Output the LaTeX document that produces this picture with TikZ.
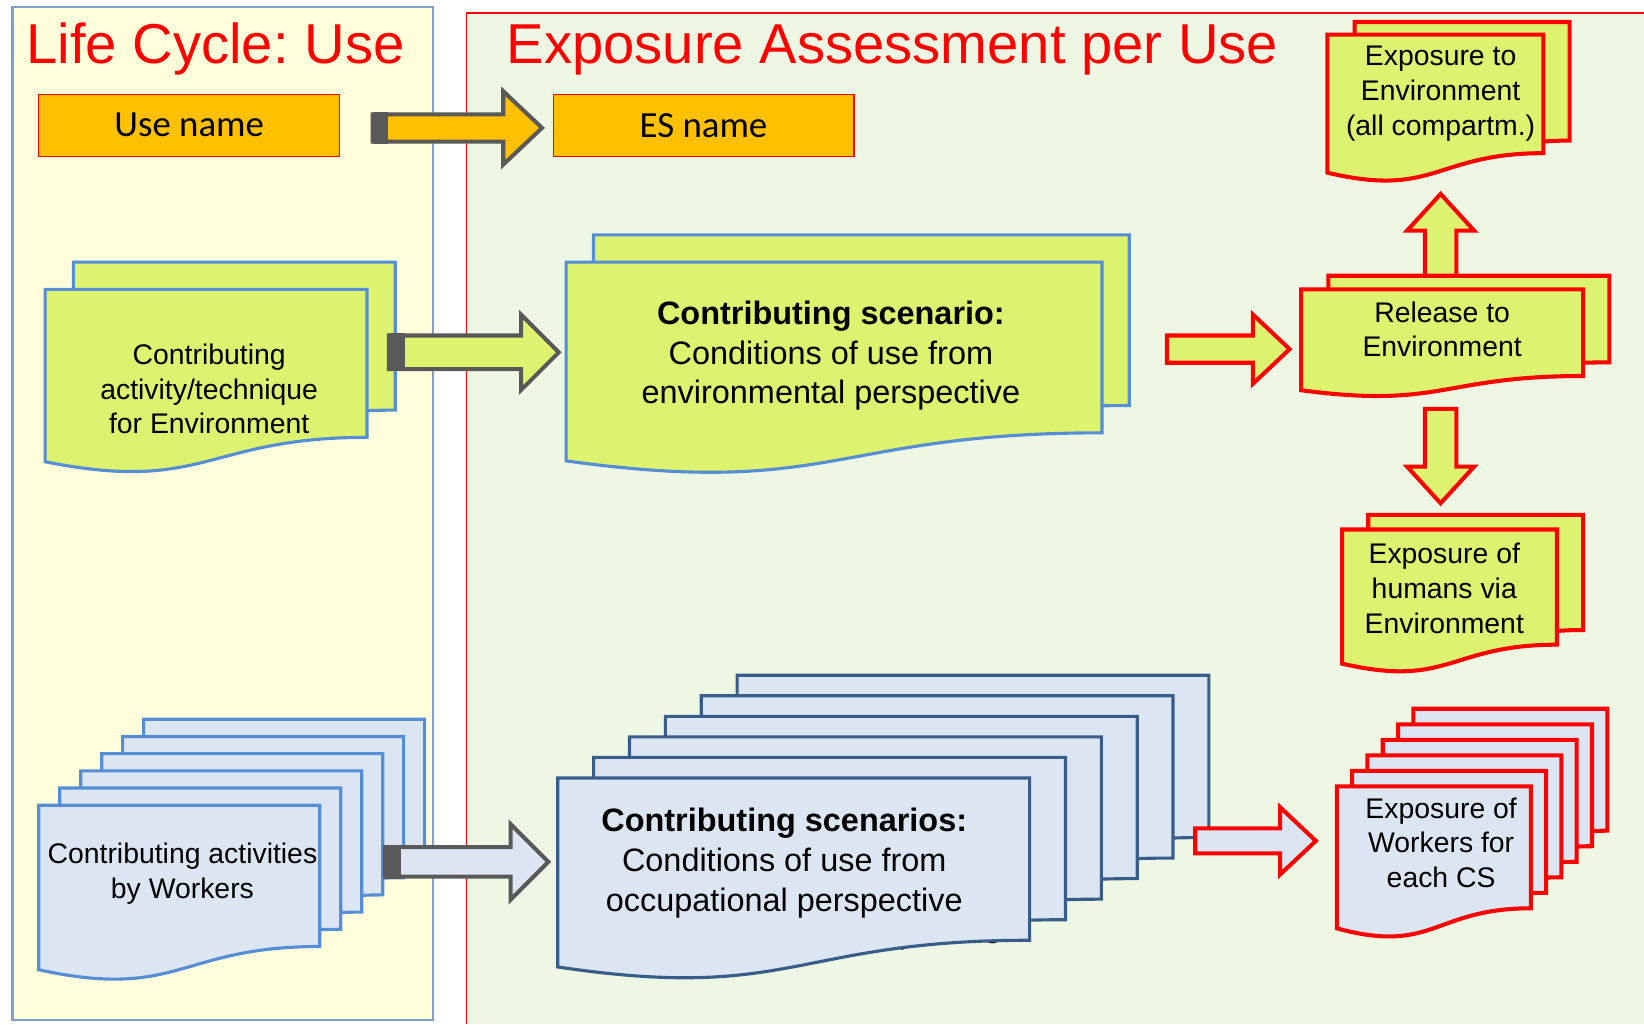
\documentclass[tikz,border=0pt]{standalone}
\usepackage{fontspec}
\setmainfont{Liberation Sans}
\newfontfamily\calibrifont{Carlito}
\usetikzlibrary{calc, fit}
\frenchspacing

\definecolor{lcyellow}{RGB}{255,255,220}
\definecolor{eagreen}{RGB}{238,247,228}
\definecolor{panelblue}{RGB}{125,160,205}
\definecolor{esorange}{RGB}{255,192,0}
\definecolor{docgreen}{RGB}{221,242,110}
\definecolor{docblue}{RGB}{85,142,213}
\definecolor{palblue}{RGB}{220,230,242}
\definecolor{deepblue}{RGB}{56,93,138}
\definecolor{arrowgray}{RGB}{89,89,89}

% document outline with wavy bottom, drawn round a fitted node
\newcommand{\docshape}[2]{%
  \draw[#2] (#1.north west) -- (#1.north east)
    -- ($(#1.north east)!0.802!(#1.south east)$)
    .. controls ($(#1.north)!0.802!(#1.south)$) and ($(#1.north)!1.1075!(#1.south)$)
    .. ($(#1.north west)!0.934!(#1.south west)$) -- cycle;}

% block arrow: style, from, to, half shaft, half head, head length
\newcommand{\blockarrow}[6][]{%
  \coordinate (ahb) at ($(#3)!#6!(#2)$);
  \draw[#1] ($(#2)!#4!90:(#3)$) -- ($(ahb)!#4!90:(#3)$) -- ($(ahb)!#5!90:(#3)$) -- (#3)
    -- ($(ahb)!#5!-90:(#3)$) -- ($(ahb)!#4!-90:(#3)$) -- ($(#2)!#4!-90:(#3)$) -- cycle;}

\begin{document}
\begin{tikzpicture}[x=0.2mm, y=-0.2mm,
  docspot/.style={inner sep=0pt, outer sep=0pt},
  greendoc/.style={fill=docgreen, draw=docblue, line width=1.7pt},
  reddoc/.style={fill=docgreen, draw=red, line width=2.2pt},
  bluedoc/.style={fill=palblue, draw=docblue, line width=1.7pt},
  deepdoc/.style={fill=palblue, draw=deepblue, line width=1.7pt},
  redbluedoc/.style={fill=palblue, draw=red, line width=2.2pt},
  title/.style={text=red, font=\fontsize{30.5}{36}\selectfont, inner sep=0pt},
  namebox/.style={fill=esorange, draw=red, line width=0.6pt, minimum width=57.4mm, minimum height=11.8mm, font=\calibrifont\fontsize{20}{24}\selectfont},
  bigtext/.style={align=center, inner sep=0pt, font=\fontsize{17.6}{21.6}\selectfont},
  smalltext/.style={align=center, inner sep=0pt, font=\fontsize{15.4}{18.8}\selectfont},
  grayarrow/.style={draw=arrowgray, line width=2.2pt},
  redarrow/.style={draw=red, line width=2.2pt}
]
  \useasboundingbox (0,0) rectangle (1568,977);

  % panels
  \fill[lcyellow] (12,7) rectangle (413,973);
  \draw[panelblue, line width=1.2pt] (12,7) rectangle (413,973);
  \fill[eagreen] (445,12) rectangle (1568,977);
  \draw[red, line width=1pt] (445,977) -- (445,12) -- (1568,12);

  \node[title, anchor=base west] (lctitle) at (25,61) {Life Cycle: Use};
  \node[title, anchor=base west] (eatitle) at (483,61) {Exposure Assessment per Use};

  \node[namebox] (usename) at (180.5,119.5) {Use name};
  \node[namebox] (esname) at (671,119.5) {ES name};

  % environment row
  \node[docspot, fit={(70,250) (377,426)}] (envact1) {};
  \docshape{envact1}{greendoc}
  \node[docspot, fit={(43,276) (350,452)}] (envact) {};
  \docshape{envact}{greendoc}
  \node[smalltext] (envacttext) at ($(envact.north)!0.54!(envact.south)+(3,0)$) {Contributing\\activity/technique\\for Environment};

  \node[docspot, fit={(566,224) (1077,427)}] (envcs1) {};
  \docshape{envcs1}{greendoc}
  \node[docspot, fit={(540,250) (1051,453)}] (envcs) {};
  \docshape{envcs}{greendoc}
  \node[bigtext] (envcstext) at ($(envcs.north)!0.44!(envcs.south)+(-3,0)$) {\textbf{Contributing scenario:}\\Conditions of use from\\environmental perspective};

  \node[docspot, fit={(1267,263) (1535,366)}] (release1) {};
  \docshape{release1}{reddoc}
  \node[docspot, fit={(1241,276) (1510,379)}] (release) {};
  \docshape{release}{reddoc}
  \node[smalltext] (releasetext) at ($(release.north)!0.37!(release.south)$) {Release to\\Environment};

  \node[docspot, fit={(1292,21) (1497,162)}] (exenv1) {};
  \docshape{exenv1}{reddoc}
  \node[docspot, fit={(1266,33) (1472,174)}] (exenv) {};
  \docshape{exenv}{reddoc}
  \node[smalltext] (exenvtext) at ($(exenv.north)!0.40!(exenv.south)+(5,0)$) {Exposure to\\Environment\\(all compartm.)};

  \node[docspot, fit={(1305,491) (1510,628)}] (exhum1) {};
  \docshape{exhum1}{reddoc}
  \node[docspot, fit={(1280,505) (1485,642)}] (exhum) {};
  \docshape{exhum}{reddoc}
  \node[smalltext] (exhumtext) at ($(exhum.north)!0.41!(exhum.south)+(-5,0)$) {Exposure of\\humans via\\Environment};

  % worker row
  \foreach \k in {5,4,...,0} {
    \node[docspot, fit={({37+20*\k},{768-16.4*\k}) ({305+20*\k},{936-16.4*\k})}] (work\k) {};
    \docshape{work\k}{bluedoc}
  }
  \node[smalltext] (worktext) at ($(work0.north)!0.39!(work0.south)+(3,0)$) {Contributing activities\\by Workers};

  \node[bigtext, anchor=base] (ghost) at (876,900) {perspective};
  \foreach \k in {5,4,...,0} {
    \node[docspot, fit={({532+34.2*\k},{742-19.6*\k}) ({982+34.2*\k},{935-19.6*\k})}] (occ\k) {};
    \docshape{occ\k}{deepdoc}
  }
  \node[bigtext] (occtext) at ($(occ0.north)!0.42!(occ0.south)+(-9,0)$) {\textbf{Contributing scenarios:}\\Conditions of use from\\occupational perspective};

  \foreach \k in {5,4,...,0} {
    \node[docspot, fit={({1275+14.6*\k},{750-14.8*\k}) ({1460+14.6*\k},{895-14.8*\k})}] (wexp\k) {};
    \docshape{wexp\k}{redbluedoc}
  }
  \node[smalltext] (wexptext) at ($(wexp0.north)!0.37!(wexp0.south)+(7,0)$) {Exposure of\\Workers for\\each CS};

  % block arrows
  \coordinate (o1) at ($(usename.east)+(31,2.5)$);
  \coordinate (o2) at ($(esname.west)+(-10,2.5)$);
  \blockarrow[grayarrow, fill=esorange]{o1}{o2}{2.6mm}{7mm}{7.4mm}
  \fill[arrowgray] ($(o1)+(0,-15)$) rectangle ($(o1)+(15,15)$);

  \coordinate (g1) at ($(envact.north east)+(21,60)$);
  \coordinate (g2) at ($(envcs.north west)+(-7,86)$);
  \blockarrow[grayarrow, fill=docgreen]{g1}{g2}{3.2mm}{7.2mm}{7.2mm}
  \fill[arrowgray] ($(g1)+(0,-18)$) rectangle ($(g1)+(15,18)$);

  \coordinate (w1) at ($(work0.north east)+(62,54)$);
  \coordinate (w2) at ($(occ0.north west)+(-9,80)$);
  \blockarrow[grayarrow, fill=palblue]{w1}{w2}{2.8mm}{7.2mm}{7.2mm}
  \fill[arrowgray] ($(w1)+(0,-16)$) rectangle ($(w1)+(15,16)$);

  \coordinate (r1) at ($(envcs.north east)+(62,83)$);
  \coordinate (r2) at ($(release.north west)+(-11,57)$);
  \blockarrow[redarrow, fill=docgreen]{r1}{r2}{2.6mm}{6.6mm}{7mm}

  \coordinate (u1) at ($(release.north)+(-1.5,-13)$);
  \coordinate (u2) at ($(release.north)+(-1.5,-91)$);
  \blockarrow[redarrow, fill=docgreen]{u1}{u2}{3mm}{6.4mm}{7mm}

  \coordinate (d1) at ($(release.south)+(-1.5,11)$);
  \coordinate (d2) at ($(exhum.north)+(-8.5,-25)$);
  \blockarrow[redarrow, fill=docgreen]{d1}{d2}{3mm}{6.4mm}{7mm}

  \coordinate (c1) at ($(occ5.north east)+(-13,158)$);
  \coordinate (c2) at ($(wexp0.north west)+(-20,52)$);
  \blockarrow[redarrow, fill=palblue]{c1}{c2}{2.4mm}{6.4mm}{6.8mm}
\end{tikzpicture}
\end{document}
